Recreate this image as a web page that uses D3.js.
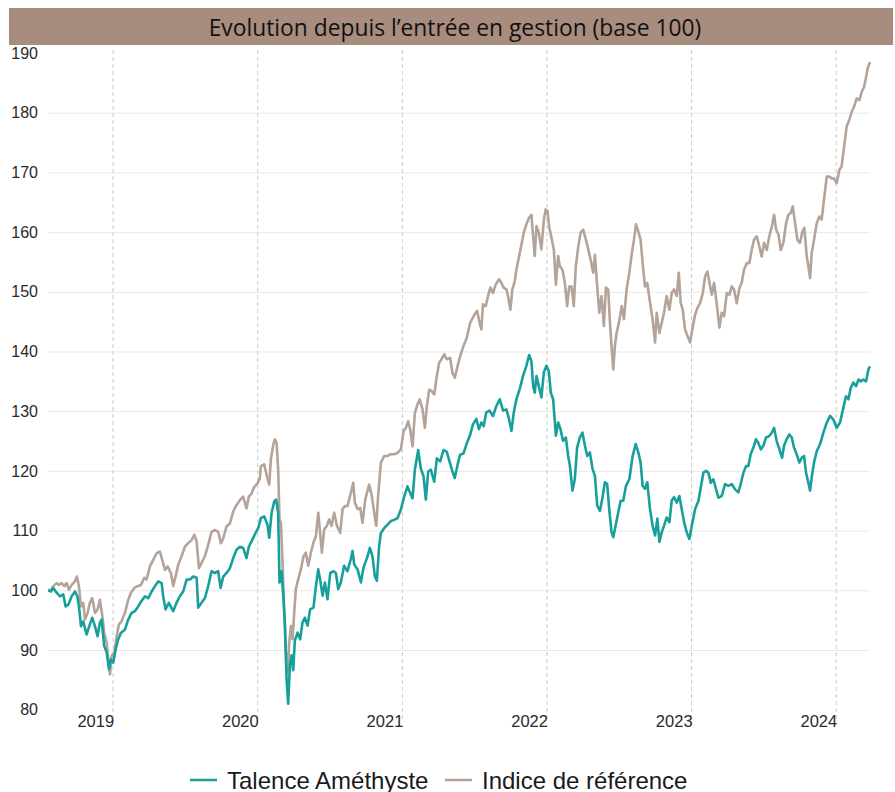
<!DOCTYPE html>
<html lang="fr">
  <head>
    <meta charset="utf-8">
    <title>Evolution depuis l'entrée en gestion</title>
    <script src="https://d3js.org/d3.v7.min.js"></script>
    <style>
      body { margin: 0; background: #fff; }
    </style>
  </head>
  <body>
    <div id="container"></div>
    <script>
      // colours
      const colors = { talence: '#17a09b', indice: '#b4a398', bar: '#a88c7e' }

      const title = 'Evolution depuis l\u2019entrée en gestion (base 100)'
      const seriesNames = ['Talence Améthyste', 'Indice de référence']
      const yearTicks = [2019, 2020, 2021, 2022, 2023, 2024]
      const valueTicks = [80, 90, 100, 110, 120, 130, 140, 150, 160, 170, 180, 190]

      // [year (decimal), base 100 value]
      const talence = [
        [2018.555, 100], [2018.574, 99.8], [2018.590, 100.4], [2018.613, 99.6], [2018.636, 99], [2018.659, 99.3],
        [2018.675, 97.3], [2018.694, 97.6], [2018.717, 99], [2018.740, 99.8], [2018.756, 99], [2018.770, 96.8],
        [2018.781, 94], [2018.797, 94.8], [2018.820, 92.6], [2018.843, 94.3], [2018.859, 95.4], [2018.878, 94],
        [2018.896, 92.3], [2018.912, 94.6], [2018.924, 95.1], [2018.942, 90.7], [2018.959, 89.6], [2018.975, 86.8],
        [2018.986, 88.4], [2019.005, 87.9], [2019.021, 90.1], [2019.039, 91.8], [2019.058, 92.9], [2019.085, 93.4],
        [2019.108, 95.1], [2019.131, 96.2], [2019.154, 96.5], [2019.177, 97.3], [2019.200, 98.2], [2019.224, 99],
        [2019.247, 98.7], [2019.270, 99.8], [2019.293, 100.7], [2019.316, 101.5], [2019.339, 101.2], [2019.350, 99],
        [2019.366, 96.8], [2019.389, 97.9], [2019.419, 96.5], [2019.442, 97.9], [2019.465, 99], [2019.488, 99.8],
        [2019.512, 101.8], [2019.535, 101.8], [2019.558, 102.3], [2019.581, 102.1], [2019.592, 97.1], [2019.615, 97.9],
        [2019.638, 98.7], [2019.661, 100.7], [2019.684, 103.2], [2019.707, 102.9], [2019.730, 103.2], [2019.747, 100.4],
        [2019.765, 102.3], [2019.788, 102.9], [2019.811, 103.7], [2019.834, 105.4], [2019.857, 106.8], [2019.880, 107.3],
        [2019.903, 107.1], [2019.926, 105.4], [2019.942, 107.3], [2019.965, 108.4], [2019.988, 109.6], [2020.007, 110.4],
        [2020.025, 112.1], [2020.048, 112.4], [2020.071, 111], [2020.083, 108.8], [2020.099, 112.9], [2020.118, 114.9],
        [2020.131, 115.2], [2020.145, 112.9], [2020.154, 101.3], [2020.168, 103.2], [2020.180, 99.1], [2020.191, 94.6],
        [2020.203, 85.2], [2020.214, 81], [2020.226, 87.4], [2020.237, 89.1], [2020.249, 86.6], [2020.260, 91.6],
        [2020.279, 92.9], [2020.297, 91.8], [2020.313, 94.6], [2020.329, 95.4], [2020.348, 94.1], [2020.366, 96.8],
        [2020.389, 97.1], [2020.406, 100.7], [2020.422, 103.5], [2020.435, 101.8], [2020.452, 99.1], [2020.468, 101.3],
        [2020.486, 98.5], [2020.505, 102.9], [2020.528, 103.2], [2020.544, 102.9], [2020.560, 100.2], [2020.578, 101.3],
        [2020.601, 104.1], [2020.624, 103.2], [2020.647, 105.2], [2020.659, 106.6], [2020.671, 104.3], [2020.694, 103.5],
        [2020.717, 101.3], [2020.735, 103.8], [2020.763, 105.7], [2020.779, 107.1], [2020.797, 105.7], [2020.813, 102.4],
        [2020.827, 101.6], [2020.843, 107.4], [2020.855, 109.6], [2020.878, 110.4], [2020.901, 111], [2020.924, 111.6],
        [2020.947, 111.8], [2020.970, 112.1], [2020.993, 113.5], [2021.016, 115.7], [2021.039, 117.4], [2021.058, 116.3],
        [2021.074, 115.4], [2021.090, 120.2], [2021.113, 123.5], [2021.131, 120.4], [2021.150, 119.1], [2021.166, 115.2],
        [2021.182, 119.9], [2021.200, 120.2], [2021.224, 118.2], [2021.242, 122.1], [2021.265, 121.6], [2021.288, 123.5],
        [2021.311, 123.2], [2021.327, 121.8], [2021.350, 119.9], [2021.366, 118.8], [2021.385, 121], [2021.403, 122.7],
        [2021.426, 122.9], [2021.449, 124.6], [2021.472, 126], [2021.492, 127.8], [2021.515, 128.7], [2021.533, 127],
        [2021.550, 128.1], [2021.566, 127.5], [2021.584, 129.8], [2021.607, 130.1], [2021.630, 129.2], [2021.654, 130.9],
        [2021.677, 132], [2021.700, 130.1], [2021.723, 130.3], [2021.741, 128.7], [2021.758, 126.7], [2021.774, 129.8],
        [2021.792, 132], [2021.815, 133.7], [2021.838, 135.9], [2021.861, 137.6], [2021.880, 139.4], [2021.896, 138.4],
        [2021.908, 134.2], [2021.919, 133.1], [2021.931, 135.9], [2021.947, 134.2], [2021.965, 132.3], [2021.982, 136.5],
        [2022.000, 137.6], [2022.016, 136.7], [2022.030, 133.1], [2022.046, 132], [2022.065, 125.9], [2022.081, 128.1],
        [2022.097, 127], [2022.115, 125], [2022.134, 125.6], [2022.150, 122.5], [2022.162, 120.9], [2022.180, 116.7],
        [2022.196, 118.6], [2022.212, 123.9], [2022.231, 125.6], [2022.249, 126.4], [2022.266, 124.2], [2022.282, 122.5],
        [2022.300, 123.1], [2022.319, 120.3], [2022.335, 119.2], [2022.351, 114.2], [2022.370, 113.3], [2022.388, 115.6],
        [2022.404, 118.1], [2022.420, 117.8], [2022.434, 113.6], [2022.450, 109.7], [2022.462, 108.9], [2022.478, 110.8],
        [2022.497, 113.1], [2022.513, 115], [2022.531, 115], [2022.550, 117.5], [2022.573, 118.6], [2022.596, 122.5],
        [2022.617, 124.5], [2022.635, 123.1], [2022.651, 121.4], [2022.665, 117.5], [2022.681, 117], [2022.697, 118.1],
        [2022.716, 113.6], [2022.734, 110.8], [2022.751, 109.2], [2022.767, 112], [2022.781, 108.1], [2022.797, 109.7],
        [2022.813, 110.8], [2022.831, 112.2], [2022.850, 111.4], [2022.866, 115], [2022.882, 115.6], [2022.901, 114.7],
        [2022.919, 115.8], [2022.935, 113.6], [2022.952, 111.4], [2022.970, 109.7], [2022.988, 108.6], [2023.005, 110.8],
        [2023.028, 113.6], [2023.051, 115], [2023.085, 119.7], [2023.104, 120], [2023.120, 119.7], [2023.136, 118],
        [2023.154, 118.6], [2023.173, 116.9], [2023.189, 115.5], [2023.212, 115.8], [2023.235, 117.8], [2023.258, 117.5],
        [2023.281, 117.8], [2023.304, 116.9], [2023.327, 116.4], [2023.343, 117.8], [2023.362, 119.7], [2023.380, 120.8],
        [2023.396, 120.8], [2023.412, 122.8], [2023.431, 123.9], [2023.449, 125.3], [2023.465, 124.7], [2023.482, 123.6],
        [2023.500, 124.2], [2023.518, 125.6], [2023.539, 125.8], [2023.558, 126.4], [2023.574, 127.2], [2023.592, 125],
        [2023.611, 123.6], [2023.629, 122.2], [2023.643, 124.2], [2023.661, 125.3], [2023.680, 126.1], [2023.696, 125.6],
        [2023.712, 123.9], [2023.730, 122.8], [2023.749, 121.4], [2023.765, 122.2], [2023.781, 122.5], [2023.795, 119.7],
        [2023.811, 118], [2023.823, 116.7], [2023.834, 118.9], [2023.850, 121.4], [2023.869, 123.3], [2023.892, 124.5],
        [2023.915, 126.4], [2023.938, 128.1], [2023.961, 129.2], [2023.984, 128.6], [2024.007, 127.2], [2024.030, 128.1],
        [2024.053, 130.6], [2024.071, 132.5], [2024.088, 132], [2024.104, 133.9], [2024.122, 134.8], [2024.141, 134.2],
        [2024.157, 135.3], [2024.173, 135], [2024.191, 135.3], [2024.210, 135], [2024.226, 137], [2024.237, 137.5]
      ]

      const indice = [
        [2018.555, 100], [2018.574, 100.1], [2018.590, 100.7], [2018.613, 101.2], [2018.629, 100.9], [2018.647, 101.2],
        [2018.666, 100.7], [2018.682, 101.2], [2018.698, 100.1], [2018.717, 100.9], [2018.740, 101.5], [2018.753, 102.3],
        [2018.767, 100.7], [2018.781, 97.3], [2018.797, 97.9], [2018.809, 95.1], [2018.827, 96.2], [2018.843, 97.9],
        [2018.859, 98.7], [2018.878, 96.2], [2018.896, 96.8], [2018.912, 98.4], [2018.929, 95.7], [2018.942, 92.9],
        [2018.959, 91.2], [2018.970, 88.4], [2018.982, 85.9], [2018.993, 89], [2019.012, 89.6], [2019.028, 92.3],
        [2019.044, 94.3], [2019.062, 94.8], [2019.085, 96.2], [2019.108, 98.4], [2019.127, 99.6], [2019.150, 100.4],
        [2019.173, 100.7], [2019.196, 100.9], [2019.219, 102.1], [2019.235, 101.8], [2019.258, 104], [2019.281, 105.1],
        [2019.304, 106.2], [2019.327, 106.5], [2019.343, 105.1], [2019.362, 103.4], [2019.380, 104], [2019.403, 102.9],
        [2019.419, 100.7], [2019.435, 102.3], [2019.454, 104.3], [2019.477, 105.7], [2019.500, 107.3], [2019.523, 107.9],
        [2019.546, 108.4], [2019.565, 109.3], [2019.581, 108.2], [2019.597, 103.7], [2019.615, 104.6], [2019.638, 105.7],
        [2019.661, 107.6], [2019.684, 109.8], [2019.707, 110.1], [2019.730, 109.8], [2019.749, 107.9], [2019.765, 108.7],
        [2019.788, 110.7], [2019.811, 111.2], [2019.834, 113.2], [2019.857, 114.3], [2019.880, 115.1], [2019.903, 115.7],
        [2019.926, 113.7], [2019.942, 115.7], [2019.961, 116.2], [2019.979, 117.3], [2020.002, 117.9], [2020.018, 118.7],
        [2020.025, 120.8], [2020.048, 121.1], [2020.067, 119.1], [2020.083, 117.7], [2020.094, 121.9], [2020.111, 124.4],
        [2020.122, 125.3], [2020.134, 124.7], [2020.145, 120.2], [2020.154, 111.9], [2020.164, 111.3], [2020.175, 104.6],
        [2020.187, 96.3], [2020.198, 89.6], [2020.210, 86.2], [2020.221, 91.2], [2020.233, 94], [2020.244, 91.8],
        [2020.256, 96.3], [2020.267, 100.2], [2020.283, 101.8], [2020.302, 103.5], [2020.320, 105.7], [2020.336, 106.3],
        [2020.353, 104.1], [2020.371, 106.3], [2020.389, 108], [2020.406, 109.1], [2020.422, 113], [2020.435, 109.6],
        [2020.447, 106.3], [2020.463, 110.2], [2020.482, 110.8], [2020.498, 111.9], [2020.514, 110.8], [2020.532, 113],
        [2020.551, 110.8], [2020.574, 109.6], [2020.590, 113.6], [2020.606, 114.1], [2020.624, 114.1], [2020.647, 116.3],
        [2020.664, 118], [2020.675, 114.7], [2020.694, 113.6], [2020.712, 113.8], [2020.728, 111.3], [2020.747, 115.2],
        [2020.774, 117.7], [2020.790, 116.1], [2020.809, 113], [2020.823, 110.8], [2020.836, 115.8], [2020.855, 121.4],
        [2020.878, 122.5], [2020.901, 122.5], [2020.924, 122.8], [2020.947, 122.8], [2020.970, 123], [2020.993, 123.6],
        [2021.012, 126.7], [2021.028, 127.2], [2021.044, 128.3], [2021.058, 126.9], [2021.074, 124.1], [2021.090, 129.7],
        [2021.108, 131.1], [2021.124, 132], [2021.143, 130.3], [2021.159, 127.2], [2021.173, 130.8], [2021.189, 133.6],
        [2021.205, 133.4], [2021.224, 132.8], [2021.242, 135.9], [2021.258, 138.1], [2021.274, 138.7], [2021.293, 139.5],
        [2021.311, 138.7], [2021.334, 138.9], [2021.350, 136.4], [2021.366, 135.6], [2021.385, 137.5], [2021.403, 139.2],
        [2021.426, 140.9], [2021.449, 142.3], [2021.472, 144.8], [2021.503, 146.2], [2021.520, 146.8], [2021.538, 144.8],
        [2021.550, 143.7], [2021.561, 147.9], [2021.580, 147.6], [2021.596, 149.3], [2021.612, 150.7], [2021.630, 149.8],
        [2021.649, 151.2], [2021.672, 152.1], [2021.688, 151.5], [2021.704, 150.7], [2021.723, 150.4], [2021.734, 149.3],
        [2021.751, 147], [2021.764, 150.4], [2021.781, 151.8], [2021.792, 153.7], [2021.811, 156], [2021.827, 157.9],
        [2021.843, 159.9], [2021.861, 161.3], [2021.880, 162.4], [2021.896, 162.9], [2021.908, 159.3], [2021.919, 156],
        [2021.931, 161], [2021.947, 159.9], [2021.965, 157.1], [2021.982, 162.1], [2021.995, 163.8], [2022.007, 163.5],
        [2022.018, 161], [2022.035, 159], [2022.051, 157.1], [2022.065, 151.2], [2022.081, 156], [2022.092, 154.3],
        [2022.111, 153.7], [2022.127, 151.5], [2022.143, 147.6], [2022.157, 150.9], [2022.173, 150.9], [2022.189, 147.6],
        [2022.203, 154.3], [2022.219, 157.4], [2022.236, 159.9], [2022.254, 160.4], [2022.273, 158.7], [2022.289, 157.1],
        [2022.305, 155.4], [2022.323, 153.2], [2022.335, 156.2], [2022.351, 150.9], [2022.365, 146.5], [2022.381, 149.3],
        [2022.397, 144.3], [2022.411, 150.7], [2022.427, 150.4], [2022.439, 144.8], [2022.450, 140.9], [2022.462, 137],
        [2022.473, 140.9], [2022.485, 143.1], [2022.501, 144.8], [2022.520, 147.6], [2022.536, 145.4], [2022.554, 150.4],
        [2022.573, 153.2], [2022.589, 156.2], [2022.605, 158.7], [2022.619, 161.3], [2022.635, 160.1], [2022.651, 158.7],
        [2022.665, 154.8], [2022.681, 150.9], [2022.697, 151.5], [2022.716, 148.2], [2022.734, 145.4], [2022.751, 141.5],
        [2022.762, 146.5], [2022.781, 143.1], [2022.797, 144.8], [2022.813, 146.5], [2022.831, 149.3], [2022.850, 147],
        [2022.866, 149.8], [2022.882, 150.4], [2022.901, 149.3], [2022.915, 153.2], [2022.928, 148.2], [2022.942, 147],
        [2022.958, 143.7], [2022.975, 142.6], [2022.993, 141.5], [2023.012, 144.2], [2023.028, 146.2], [2023.044, 147.3],
        [2023.062, 148.1], [2023.081, 149.8], [2023.097, 152.6], [2023.113, 153.4], [2023.127, 151.5], [2023.143, 149.5],
        [2023.159, 151.5], [2023.177, 148.1], [2023.196, 144], [2023.212, 146.5], [2023.228, 145.9], [2023.247, 149.8],
        [2023.265, 149.5], [2023.281, 150.9], [2023.297, 150.4], [2023.316, 148.1], [2023.334, 150.6], [2023.350, 151.5],
        [2023.366, 153.7], [2023.385, 154.8], [2023.403, 154.8], [2023.419, 157], [2023.435, 158.7], [2023.454, 159.3],
        [2023.472, 157.6], [2023.488, 155.9], [2023.505, 158.2], [2023.523, 157], [2023.541, 159.3], [2023.558, 160.9],
        [2023.574, 162.9], [2023.588, 160.4], [2023.604, 159.6], [2023.620, 157], [2023.638, 158.2], [2023.657, 161.5],
        [2023.673, 162.9], [2023.689, 163.2], [2023.703, 164.3], [2023.719, 161.5], [2023.735, 158.7], [2023.753, 158.2],
        [2023.770, 160.1], [2023.783, 160.7], [2023.800, 155.9], [2023.811, 154.3], [2023.823, 152.3], [2023.834, 156.5],
        [2023.850, 158.7], [2023.869, 161.5], [2023.887, 162.6], [2023.903, 162.1], [2023.919, 165.4], [2023.938, 169.3],
        [2023.956, 169.3], [2023.972, 169], [2023.988, 169], [2024.007, 168.2], [2024.025, 170.4], [2024.041, 171],
        [2024.058, 174.3], [2024.076, 177.7], [2024.094, 178.8], [2024.111, 180.2], [2024.127, 181], [2024.145, 182.4],
        [2024.164, 182.1], [2024.180, 183.5], [2024.196, 184.3], [2024.210, 186], [2024.221, 187.4], [2024.237, 188.5]
      ]

      const width = 895, height = 792
      const tickFont = '"Liberation Sans", Arial, sans-serif'

      const svg = d3.select('#container').append('svg')
        .attr('width', width)
        .attr('height', height)

      const x = d3.scaleLinear().domain([2019, 2024]).range([112.6, 835.7])
      const y = d3.scaleLinear().domain([80, 190]).range([709.7, 53])

      // Title band
      svg.append('rect')
        .attr('x', 9).attr('y', 8)
        .attr('width', 884).attr('height', 37)
        .attr('fill', colors.bar)
      svg.append('text')
        .attr('x', 455).attr('y', 36)
        .attr('text-anchor', 'middle')
        .attr('font-family', '"Open Sans", "Noto Sans", sans-serif')
        .attr('font-size', 22.8)
        .attr('fill', '#111')
        .text(title)

      // Horizontal grid
      const grid = svg.append('g')
        .attr('transform', 'translate(48,0)')
        .call(d3.axisLeft(y)
          .tickValues(valueTicks.filter(v => v > 80 && v < 190))
          .tickSize(-(870 - 48))
          .tickFormat(''))
      grid.select('.domain').remove()
      grid.selectAll('line').attr('stroke', '#e9e9e9')

      // Y labels
      const yAxis = svg.append('g')
        .attr('transform', 'translate(38,0)')
        .call(d3.axisLeft(y).tickValues(valueTicks).tickSize(0).tickPadding(0))
      yAxis.select('.domain').remove()
      yAxis.selectAll('text')
        .attr('font-family', tickFont)
        .attr('font-size', 16)
        .attr('fill', '#2a2a2a')

      // Year lines (dashed) and labels
      const xAxis = svg.append('g')
        .call(d3.axisBottom(x).tickValues(yearTicks).tickFormat(d3.format('d')))
      xAxis.select('.domain').remove()
      xAxis.selectAll('.tick line')
        .attr('y1', 50).attr('y2', 722)
        .attr('stroke', '#c9c9c9')
        .attr('stroke-dasharray', '4,3')
      xAxis.selectAll('.tick text')
        .attr('y', 727).attr('dy', null)
        .attr('x', 1)
        .attr('text-anchor', 'end')
        .attr('font-family', tickFont)
        .attr('font-size', 16.5)
        .attr('fill', '#2a2a2a')

      // Series lines
      const line = d3.line()
        .x(d => x(d[0]))
        .y(d => y(d[1]))

      svg.append('path')
        .datum(indice)
        .attr('fill', 'none')
        .attr('stroke', colors.indice)
        .attr('stroke-width', 2.6)
        .attr('stroke-linejoin', 'round')
        .attr('d', line)

      svg.append('path')
        .datum(talence)
        .attr('fill', 'none')
        .attr('stroke', colors.talence)
        .attr('stroke-width', 2.6)
        .attr('stroke-linejoin', 'round')
        .attr('d', line)

      // Legend
      const legendX = [190, 445]
      const legend = svg.selectAll('g.legend')
        .data(seriesNames).enter()
        .append('g')
        .attr('class', 'legend')
        .attr('transform', (d, i) => `translate(${legendX[i]},780)`)
      legend.append('line')
        .attr('x1', 0).attr('x2', 27)
        .attr('stroke', (d, i) => i === 0 ? colors.talence : colors.indice)
        .attr('stroke-width', 2.5)
      legend.append('text')
        .attr('x', 37).attr('y', 8.5)
        .attr('font-family', tickFont)
        .attr('font-size', 24)
        .attr('fill', '#1a1a1a')
        .text(d => d)
    </script>
  </body>
</html>
